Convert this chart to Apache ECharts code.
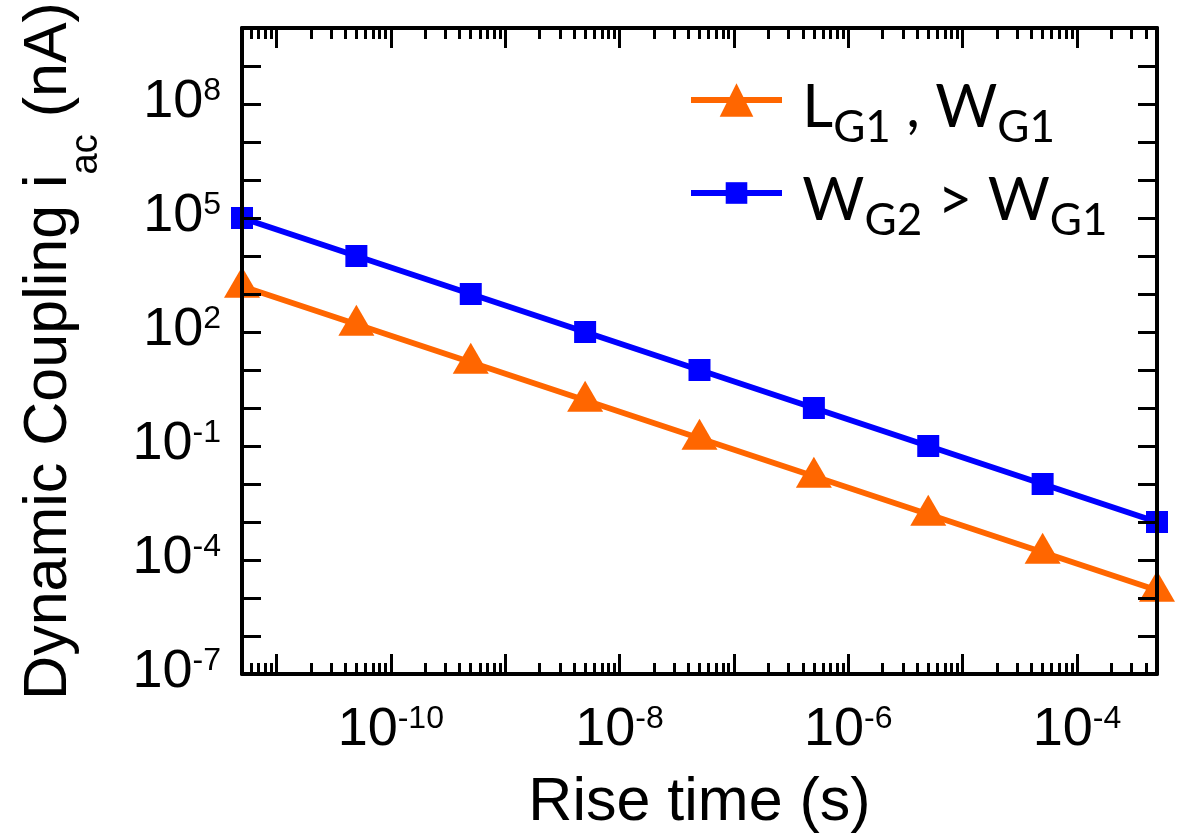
<!DOCTYPE html>
<html>
<head>
<meta charset="utf-8">
<script src="https://cdn.jsdelivr.net/npm/echarts@6/dist/echarts.min.js"></script>
<style>
  html, body { margin: 0; padding: 0; background: #fff; }
  #chart { width: 1177px; height: 839px; }
</style>
</head>
<body>
<div id="chart"></div>
<script>
// Rise time (s) of the input edge
const riseTime = [5e-12, 5e-11, 5e-10, 5e-9, 5e-8, 5e-7, 5e-6, 5e-5, 5e-4];
// Dynamic coupling current (nA) for the reference gate geometry
const couplingLW = [1600, 160, 16, 1.6, 0.16, 0.016, 0.0016, 1.6e-4, 1.6e-5];
// Dynamic coupling current (nA) for the wider gate
const couplingWide = [1e5, 1e4, 1e3, 100, 10, 1, 0.1, 0.01, 0.001];

// Axis ranges and tick positions
const xRange = [5e-12, 5e-4];
const yRange = [1e-7, 1e10];
const xMajorTicks = [1e-11, 1e-10, 1e-9, 1e-8, 1e-7, 1e-6, 1e-5, 1e-4];
const xLabelTicks = [1e-10, 1e-8, 1e-6, 1e-4];
const xMinorSteps = [2, 3, 4, 5, 6, 7, 8, 9];
const xDecades = [1e-12, 1e-11, 1e-10, 1e-9, 1e-8, 1e-7, 1e-6, 1e-5, 1e-4];
const yMajorTicks = [1e-7, 1e-6, 1e-5, 1e-4, 1e-3, 1e-2, 1e-1, 1, 1e1, 1e2, 1e3, 1e4, 1e5, 1e6, 1e7, 1e8, 1e9, 1e10];
const yLabelTicks = [1e-7, 1e-4, 1e-1, 1e2, 1e5, 1e8];

const seriesNames = ['LW', 'WIDE'];
const legendText = {
  LW: '{b| L}{s|G1}{b| , W}{s|G1}',
  WIDE: '{b| W}{s|G2}{b| > W}{s|G1}'
};

const ORANGE = '#FF6600';
const BLUE = '#0000FF';
const AXIS_FONT = '"Liberation Sans", Arial, sans-serif';
const LEGEND_FONT = 'Lato, "Open Sans", sans-serif';

const xMinorTicks = [];
xDecades.forEach(d => xMinorSteps.forEach(m => {
  const v = m * d;
  if (v > xRange[0] * 1.0001 && v < xRange[1] * 0.9999) xMinorTicks.push(v);
}));

const powLabel = v => '{b|10}{p|' + Math.round(Math.log10(v)) + '}';
const powRich = {
  b: { fontFamily: AXIS_FONT, fontSize: 54, lineHeight: 70, verticalAlign: 'top',
       padding: [6, 0, 0, 0], color: '#000' },
  p: { fontFamily: AXIS_FONT, fontSize: 32, lineHeight: 32, verticalAlign: 'top',
       padding: [6, 0, 0, 0], color: '#000' }
};

const lineAxis = { show: true, onZero: false, lineStyle: { color: '#000', width: 4 } };

function xAxisDef(position, ticks, tickLen, labels, line) {
  return {
    type: 'log', logBase: 10, min: xRange[0], max: xRange[1], position,
    z: 5,
    axisLine: line ? lineAxis : { show: false },
    splitLine: { show: false },
    axisTick: { show: true, inside: true, length: tickLen, customValues: ticks,
                lineStyle: { color: '#000', width: 3 } },
    axisLabel: labels
      ? { show: true, customValues: xLabelTicks, margin: 23, formatter: powLabel, rich: powRich }
      : { show: false },
    name: labels ? 'Rise time (s)' : '',
    nameLocation: 'middle',
    nameGap: 99,
    nameTextStyle: { fontFamily: AXIS_FONT, fontSize: 61, color: '#000' }
  };
}

function yAxisDef(position, labels) {
  return {
    type: 'log', logBase: 10, min: yRange[0], max: yRange[1], position,
    z: 5,
    axisLine: lineAxis,
    splitLine: { show: false },
    axisTick: { show: true, inside: true, length: 19, customValues: yMajorTicks,
                lineStyle: { color: '#000', width: 3 } },
    axisLabel: labels
      ? { show: true, customValues: yLabelTicks, margin: 21, formatter: powLabel, rich: powRich,
          verticalAlignMinLabel: 'middle', verticalAlignMaxLabel: 'middle' }
      : { show: false },
    name: labels ? '{t|Dynamic Coupling i}{u|ac}{t| (nA)}' : '',
    nameLocation: 'middle',
    nameGap: 153,
    nameMoveOverlap: false,
    nameTextStyle: {
      rich: {
        t: { fontFamily: AXIS_FONT, fontSize: 61, lineHeight: 70, verticalAlign: 'top', color: '#000' },
        u: { fontFamily: AXIS_FONT, fontSize: 38, lineHeight: 38, verticalAlign: 'top',
             padding: [49, 0, 0, 0], color: '#000' }
      }
    }
  };
}

const legendRich = {
  b: { fontFamily: LEGEND_FONT, fontSize: 60, lineHeight: 64, verticalAlign: 'top',
       padding: [10, 0, 0, 0], color: '#000' },
  s: { fontFamily: LEGEND_FONT, fontSize: 44, lineHeight: 44, verticalAlign: 'top',
       padding: [38, 0, 0, 0], color: '#000' }
};

function legendDef(name, top, iconH, color) {
  return {
    data: [name], left: 688, top, orient: 'vertical', padding: 0,
    itemWidth: 91, itemHeight: iconH,
    formatter: n => legendText[n],
    textStyle: { rich: legendRich },
    lineStyle: { width: 6, color },
    selectedMode: false
  };
}

const chart = echarts.init(document.getElementById('chart'), null, { renderer: 'canvas' });
chart.setOption({
  backgroundColor: '#fff',
  animation: false,
  grid: { left: 242, right: 20, top: 28, bottom: 160, containLabel: false },
  xAxis: [
    xAxisDef('bottom', xMajorTicks, 20, true, true),
    xAxisDef('bottom', xMinorTicks, 11, false, false),
    xAxisDef('top', xMajorTicks, 20, false, true),
    xAxisDef('top', xMinorTicks, 11, false, false)
  ],
  yAxis: [
    yAxisDef('left', true),
    yAxisDef('right', false)
  ],
  legend: [
    legendDef('LW', 68, 42, ORANGE),
    legendDef('WIDE', 161, 27, BLUE)
  ],
  series: [
    {
      name: seriesNames[0], type: 'line', xAxisIndex: 0, yAxisIndex: 0, clip: false,
      data: riseTime.map((t, i) => [t, couplingLW[i]]),
      symbol: 'triangle', symbolSize: [36, 31], symbolOffset: [0, -4],
      lineStyle: { color: ORANGE, width: 6 },
      itemStyle: { color: ORANGE }
    },
    {
      name: seriesNames[1], type: 'line', xAxisIndex: 0, yAxisIndex: 0, clip: false,
      data: riseTime.map((t, i) => [t, couplingWide[i]]),
      symbol: 'rect', symbolSize: 22,
      lineStyle: { color: BLUE, width: 6 },
      itemStyle: { color: BLUE }
    }
  ]
});
</script>
</body>
</html>
